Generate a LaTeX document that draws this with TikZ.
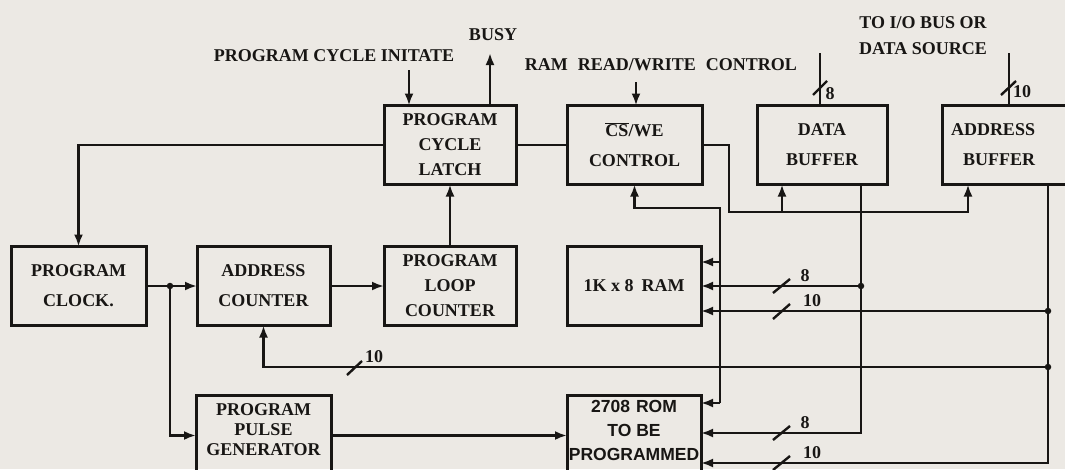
\documentclass[tikz,border=0pt]{standalone}
\usepackage{fontspec}
\setmainfont{Liberation Serif}
\setsansfont{Liberation Sans}
\usetikzlibrary{arrows.meta,positioning}
\definecolor{ink}{RGB}{24,22,20}
\definecolor{paper}{RGB}{236,233,228}

\begin{document}
\begin{tikzpicture}[
  x=1pt, y=-1pt,
  font=\fontsize{18}{25}\selectfont\bfseries,
  >=Latex,
  blk/.style={draw=ink, line width=3pt, align=center, text=ink, inner sep=0pt, outer sep=0pt, minimum height=79pt},
  two/.style={font=\fontsize{18}{30}\selectfont\bfseries},
  arrow/.style={draw=ink, line width=2.4pt, -{Latex[length=12pt,width=9pt]}},
  wire/.style={draw=ink, line width=2.4pt},
  tag/.style={text=ink, inner sep=0pt},
  jdot/.style={circle, fill=ink, inner sep=0pt, minimum size=6.5pt}
]
\clip (0,0) rectangle (1065,469);
\fill[paper] (0,0) rectangle (1065,469);

% second row
\node[blk, two, minimum width=135pt] (clock) at (78.5,286) {PROGRAM\\CLOCK.};
\node[blk, two, minimum width=133pt, right=51pt of clock] (counter) {ADDRESS\\COUNTER};
\node[blk, minimum width=132pt, right=54pt of counter] (loop) {PROGRAM\\LOOP\\COUNTER};
\node[blk, minimum width=134pt, right=51pt of loop] (ram) {1K x 8\hspace{8pt}RAM};

% top row
\node[blk, minimum width=132pt, above=62pt of loop] (latch) {PROGRAM\\CYCLE\\LATCH};
\node[blk, two, minimum width=135pt, right=51pt of latch] (cswe) {$\overline{\mbox{CS}}$/WE\\CONTROL};
\node[blk, two, minimum width=130pt, right=55pt of cswe] (databuf) {DATA\\BUFFER};
\node[blk, two, minimum width=140pt, right=55pt of databuf, text width=122pt, align=left] (addrbuf) {ADDRESS\\\hspace{12pt}BUFFER};

% bottom row
\node[blk, minimum width=135pt, minimum height=80pt, below=70pt of counter] (pulse) {};
\node[tag, align=center, font=\fontsize{18}{20}\selectfont\bfseries] (pulsetext) at ([yshift=6pt]pulse.center) {PROGRAM\\PULSE\\GENERATOR};
\node[blk, minimum width=134pt, minimum height=80pt, below=70pt of ram] (rom) {};
\node[tag, align=center, font=\fontsize{17.5}{24}\selectfont\sffamily\bfseries] (romtext) at ([yshift=5pt]rom.center) {2708\hspace{6pt}ROM\\TO BE\\PROGRAMMED};

% outside signals
\node[tag] (initlbl) at (334,56) {PROGRAM CYCLE INITATE};
\node[tag] (busylbl) at (493,35) {BUSY};
\node[tag] (rwlbl) at (661,65) {RAM\hspace{10pt}READ/WRITE\hspace{10pt}CONTROL};
\node[tag, align=center, font=\fontsize{18}{26}\selectfont\bfseries] (iolbl) at (923,36) {TO I/O BUS OR\\DATA SOURCE};

\coordinate (init) at (409,70);
\coordinate (busy) at (490,53);
\coordinate (rw) at (636,82);
\coordinate (dbtop) at (820,53);
\coordinate (abtop) at (1009,53);
\coordinate (tap) at (170,286);
\coordinate (sel) at (729,212);
\coordinate (cs) at (720,208);
\coordinate (csr) at (720,262);
\coordinate (csb) at (720,403);
\coordinate (dbin) at ([xshift=25pt]databuf.south west);
\coordinate (abin) at ([xshift=26pt]addrbuf.south west);
\coordinate (dram) at (861,286);
\coordinate (dbus) at (861,433);
\coordinate (aram) at (1048,311);
\coordinate (acnt) at (1048,367);
\coordinate (abus) at (1048,463);

\draw[arrow] (init) -- (init |- latch.north);
\draw[arrow] (busy |- latch.north) -- (busy);
\draw[arrow] (rw) -- (rw |- cswe.north);
\draw[wire] (dbtop) -- (dbtop |- databuf.north);
\draw[wire] (abtop) -- (abtop |- addrbuf.north);

\draw[arrow] (latch.west) -| (clock.north);
\draw[wire] (latch) -- (cswe);
\draw[arrow] (loop) -- (latch);
\draw[arrow] (clock) -- (counter);
\draw[arrow] (counter) -- (loop);
\draw[arrow] (tap) |- (pulse.west);
\draw[arrow] (pulse.east) -- (pulse.east -| rom.west);

\draw[arrow] (cswe.east) -| (sel) -| (abin);
\draw[arrow] (dbin |- sel) -- (dbin);
\draw[arrow] (csb) -- (cs) -| (cswe.south);
\draw[arrow] (csr) -- (csr -| ram.east);
\draw[arrow] (csb) -- (csb -| rom.east);

\draw[arrow] (dbus |- databuf.south) -- (dbus) -- (dbus -| rom.east);
\draw[arrow] (dram) -- (dram -| ram.east);
\draw[arrow] (abus |- addrbuf.south) -- (abus) -- (abus -| rom.east);
\draw[arrow] (aram) -- (aram -| ram.east);
\draw[arrow] (acnt) -| (counter.south);

\node[jdot] (tapdot) at (tap) {};
\node[jdot] (dramdot) at (dram) {};
\node[jdot] (aramdot) at (aram) {};
\node[jdot] (acntdot) at (acnt) {};

% bus widths
\draw[wire] (813,95) -- (827,81);
\node[tag] (w1) at (830,94) {8};
\draw[wire] (1001,95) -- (1016,81);
\node[tag] (w2) at (1022,92) {10};
\draw[wire] (773,293) -- (790,279);
\node[tag] (w3) at (805,276) {8};
\draw[wire] (773,319) -- (790,304);
\node[tag] (w4) at (812,301) {10};
\draw[wire] (773,440) -- (790,426);
\node[tag] (w5) at (805,423) {8};
\draw[wire] (773,470) -- (790,456);
\node[tag] (w6) at (812,453) {10};
\draw[wire] (347,375) -- (362,361);
\node[tag] (w7) at (374,357) {10};

\end{tikzpicture}
\end{document}
